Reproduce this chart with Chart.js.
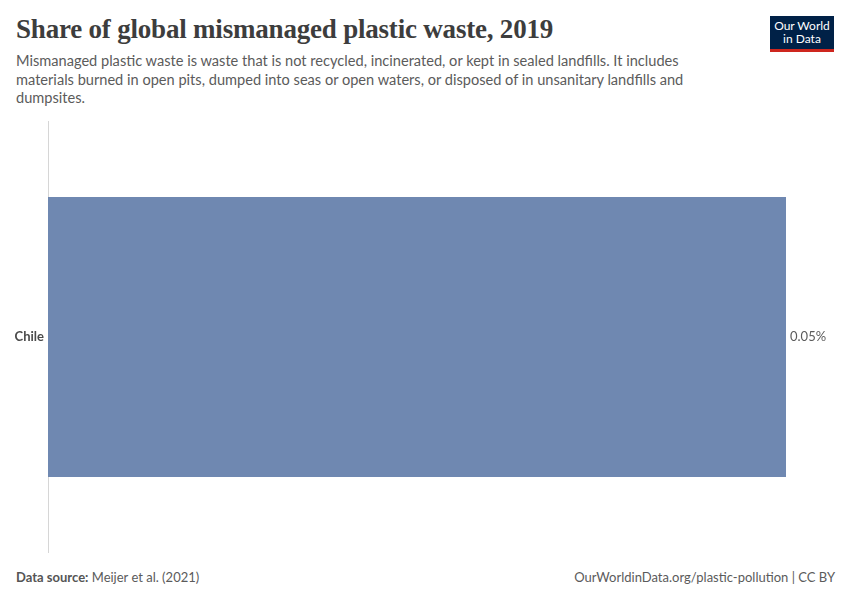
<!DOCTYPE html>
<html>
<head>
<meta charset="utf-8">
<script src="https://cdn.jsdelivr.net/npm/chart.js@4.4.1/dist/chart.umd.min.js"></script>
<style>
  body { margin: 0; background: #fff; font-family: Lato, "Noto Sans", sans-serif; }
  #page { position: relative; width: 850px; height: 600px; overflow: hidden; }
  h1 { position: absolute; left: 16px; top: 14px; margin: 0; font-family: "Liberation Serif", "DejaVu Serif", serif;
       font-weight: bold; font-size: 27px; color: #3d3d3d; letter-spacing: -0.2px; }
  #sub { position: absolute; left: 16px; top: 52px; width: 720px; margin: 0; font-size: 14.6px; line-height: 18.5px; color: #5b5b5b; }
  #logo { position: absolute; left: 770px; top: 16px; width: 64px; background: #002147;
          border-bottom: 3px solid #ce261e; color: #fff; font-size: 12px; line-height: 13px; text-align: center;
          padding-top: 3px; height: 30px; }
  #wrap { position: absolute; left: 0; top: 110px; width: 850px; height: 454px; }
  #foot-l { position: absolute; left: 16px; top: 569px; font-size: 13px; color: #5b5b5b; }
  #foot-l b { font-weight: bold; color: #555; }
  #foot-r { position: absolute; right: 15px; top: 569px; font-size: 13px; color: #5b5b5b; }
</style>
</head>
<body>
<div id="page">
  <h1>Share of global mismanaged plastic waste, 2019</h1>
  <p id="sub">Mismanaged plastic waste is waste that is not recycled, incinerated, or kept in sealed landfills. It includes materials burned in open pits, dumped into seas or open waters, or disposed of in unsanitary landfills and dumpsites.</p>
  <div id="logo">Our World<br>in Data</div>
  <div id="wrap"><canvas id="chart"></canvas></div>
  <div id="foot-l"><b>Data source:</b> Meijer et al. (2021)</div>
  <div id="foot-r">OurWorldinData.org/plastic-pollution | CC BY</div>
</div>
<script>
// values
var countries = ["Chile"];
var shares = [0.05];
var barColor = "#6f88b1";

var valueLabels = {
  id: "valueLabels",
  afterDatasetsDraw: function(chart) {
    var ctx = chart.ctx;
    var meta = chart.getDatasetMeta(0);
    ctx.save();
    ctx.font = "13px Lato";
    ctx.fillStyle = "#5b5b5b";
    ctx.textAlign = "left";
    ctx.textBaseline = "middle";
    meta.data.forEach(function(bar, i) {
      ctx.fillText(shares[i] + "%", bar.x + 4, bar.y);
    });
    ctx.restore();
  }
};

new Chart(document.getElementById("chart"), {
  type: "bar",
  data: {
    labels: countries,
    datasets: [{
      data: shares,
      backgroundColor: barColor,
      barPercentage: 0.651,
      categoryPercentage: 1
    }]
  },
  options: {
    indexAxis: "y",
    responsive: true,
    maintainAspectRatio: false,
    animation: false,
    layout: { padding: { top: 2, bottom: 3, right: 64, left: 0 } },
    plugins: { legend: { display: false }, tooltip: { enabled: false } },
    scales: {
      x: { display: false, min: 0, max: Math.max.apply(null, shares) },
      y: {
        grid: { display: false, drawTicks: false, tickLength: 0 },
        border: { display: true, color: "#d6d6d6" },
        ticks: { color: "#4a4a4a", font: { family: "Lato", size: 13, weight: "bold" }, padding: 4 },
        afterFit: function(scale) { scale.width = 48; }
      }
    }
  },
  plugins: [valueLabels]
});
</script>
</body>
</html>
